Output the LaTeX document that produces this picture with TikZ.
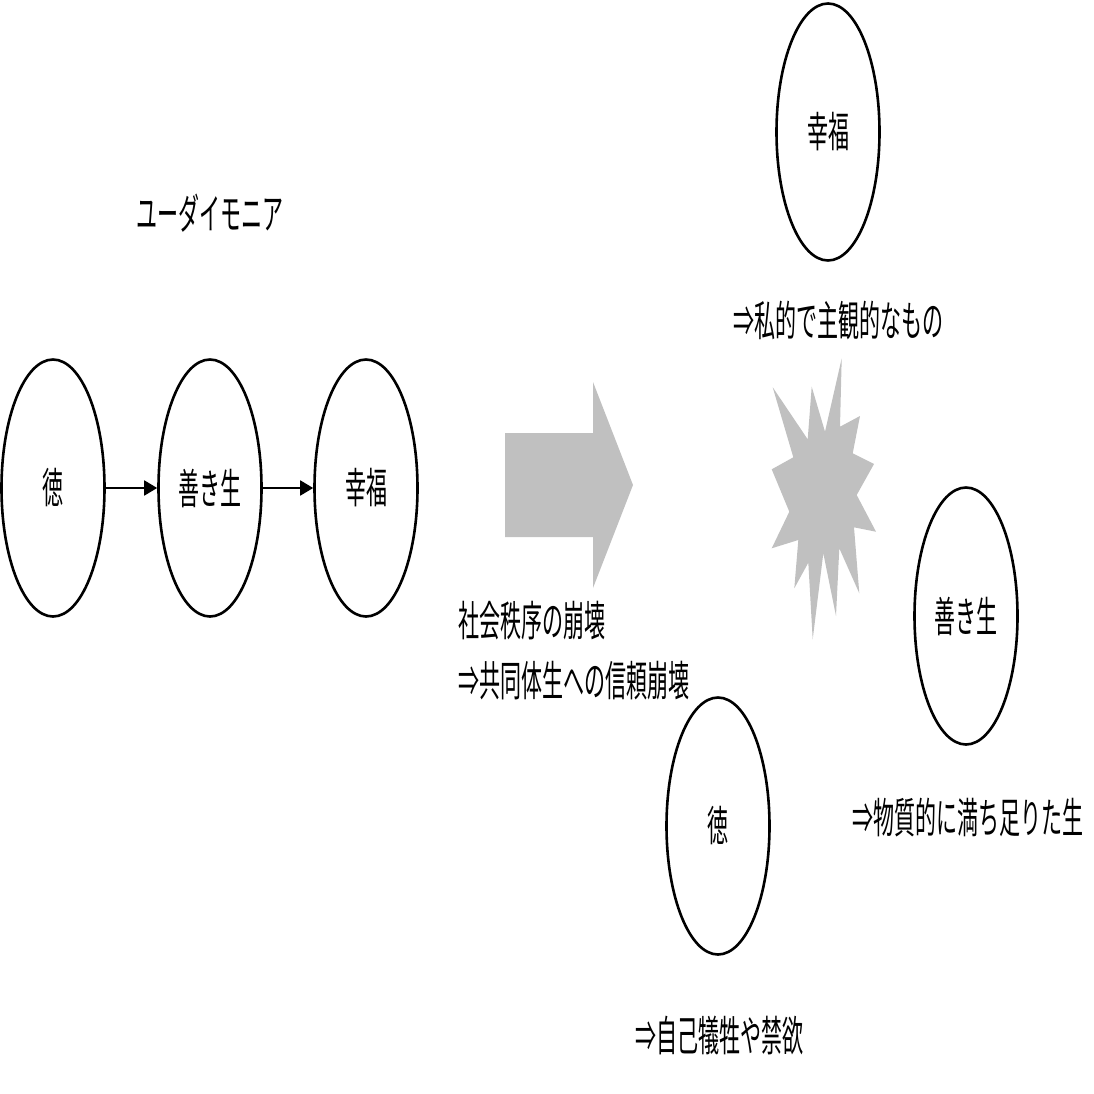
\documentclass[tikz,border=0pt]{standalone}
\usepackage{fontspec}
\usetikzlibrary{shapes.geometric,arrows.meta}
\newfontfamily\jp[FakeStretch=0.5]{Noto Sans CJK JP}
\begin{document}
\begin{tikzpicture}[x=1pt,y=-1pt,
  ell/.style={draw=black,line width=2.6pt,ellipse,minimum width=103pt,minimum height=257pt,inner sep=0pt,font=\jp\fontsize{42}{60}\selectfont},
  lbl/.style={inner sep=0pt,font=\jp\fontsize{42}{60}\selectfont},
  conn/.style={line width=1.8pt,-{Triangle[length=13pt,width=15pt]}}]
\useasboundingbox (0,0) rectangle (1094,1094);
% left chain
\node[ell] (t1) at (53,488) {徳};
\node[ell] (y1) at (210,488) {善き生};
\node[ell] (k1) at (366,488) {幸福};
\draw[conn] (t1) -- (y1);
\draw[conn] (y1) -- (k1);
\node[lbl] (title) at (210,213) {ユーダイモニア};
% block arrow
\fill[fill={rgb,255:red,192;green,192;blue,192}] (505,433) -- (593,433) -- (593,382) -- (633,485) -- (593,588) -- (593,537) -- (505,537) -- cycle;
\node[lbl,anchor=north west,align=left] (col) at (458,601) {社会秩序の崩壊\\⇒共同体生への信頼崩壊};
% right side
\node[ell] (k2) at (828,132) {幸福};
\node[lbl] (k2t) at (838,320) {⇒私的で主観的なもの};
\node[ell] (y2) at (966,616) {善き生};
\node[lbl] (y2t) at (968,818) {⇒物質的に満ち足りた生};
\node[ell] (t2) at (718,826) {徳};
\node[lbl] (t2t) at (719,1035) {⇒自己犠牲や禁欲};
% starburst
\fill[fill={rgb,255:red,192;green,192;blue,192}] (841.7,358.3) -- (840,426.7) -- (860,416) -- (852.7,453.3) -- (874,464) -- (856.7,495) -- (876,531.7) -- (854,527.3) -- (859.3,593.3) -- (839.3,548.3) -- (836,616) -- (823.3,553.3) -- (812.7,639.3) -- (808.3,562.7) -- (794.3,588.3) -- (798.3,540) -- (771.7,548.3) -- (789.3,511.7) -- (771.7,469.3) -- (793.3,457.3) -- (772.7,387.3) -- (807.7,439.3) -- (811.7,386.7) -- (825,431.7) -- cycle;
\end{tikzpicture}
\end{document}
